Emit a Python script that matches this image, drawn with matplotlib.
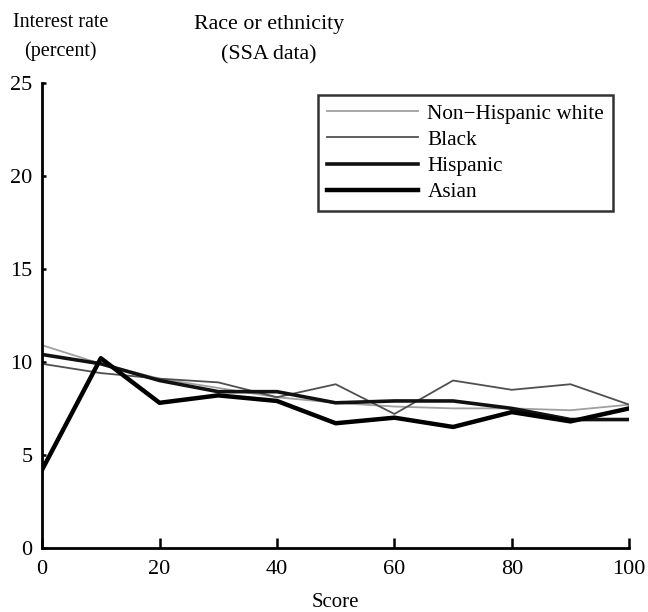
import matplotlib
matplotlib.use("Agg")
import matplotlib.pyplot as plt

plt.rcParams['font.family'] = ['Liberation Serif', 'DejaVu Serif']

score = [0, 10, 20, 30, 40, 50, 60, 70, 80, 90, 100]
white = [10.9, 9.9, 9.1, 8.6, 8.1, 7.8, 7.6, 7.5, 7.5, 7.4, 7.7]
black = [9.9, 9.4, 9.1, 8.9, 8.1, 8.8, 7.2, 9.0, 8.5, 8.8, 7.7]
hispanic = [10.4, 9.9, 9.0, 8.4, 8.4, 7.8, 7.9, 7.9, 7.5, 6.9, 6.9]
asian = [4.2, 10.2, 7.8, 8.2, 7.9, 6.7, 7.0, 6.5, 7.3, 6.8, 7.5]
series_names = ["Non\u2212Hispanic white", "Black", "Hispanic", "Asian"]
yticks = [0, 5, 10, 15, 20, 25]
xticks = [0, 20, 40, 60, 80, 100]

fig = plt.figure(figsize=(6.48, 6.12), dpi=100)
ax = fig.add_axes([0.065, 0.105, 0.906, 0.759])

ax.plot(score, white, color='#a0a0a0', lw=1.3, label=series_names[0])
ax.plot(score, black, color='#505050', lw=1.3, label=series_names[1])
ax.plot(score, hispanic, color='#111111', lw=2.6, label=series_names[2])
ax.plot(score, asian, color='#000000', lw=3.2, label=series_names[3])

ax.set_xlim(0, 100)
ax.set_ylim(0, 25)
ax.set_xticks(xticks)
ax.set_yticks(yticks)
ax.tick_params(axis='x', direction='in', length=7, width=1.8, labelsize=16, pad=9, colors='black')
ax.tick_params(axis='y', direction='in', length=3, width=1.8, labelsize=16, pad=7, colors='black')
for s in ['top', 'right']:
    ax.spines[s].set_visible(False)
for s in ['left', 'bottom']:
    ax.spines[s].set_linewidth(2)

leg = ax.legend(loc='upper right', bbox_to_anchor=(0.99, 0.997), fontsize=15.3,
                handlelength=4.3, frameon=True, fancybox=False, edgecolor='black',
                borderpad=0.4, labelspacing=0.3, handletextpad=0.45)
leg.get_frame().set_linewidth(1.8)

ax.set_xlabel("Score", fontsize=15, labelpad=10)
fig.text(0.093, 0.978, "Interest rate\n(percent)", ha='center', va='top', fontsize=14.5, linespacing=1.6)
fig.text(0.415, 0.975, "Race or ethnicity\n(SSA data)", ha='center', va='top', fontsize=15.8, linespacing=1.8)

fig.savefig("out.png", dpi=100)
